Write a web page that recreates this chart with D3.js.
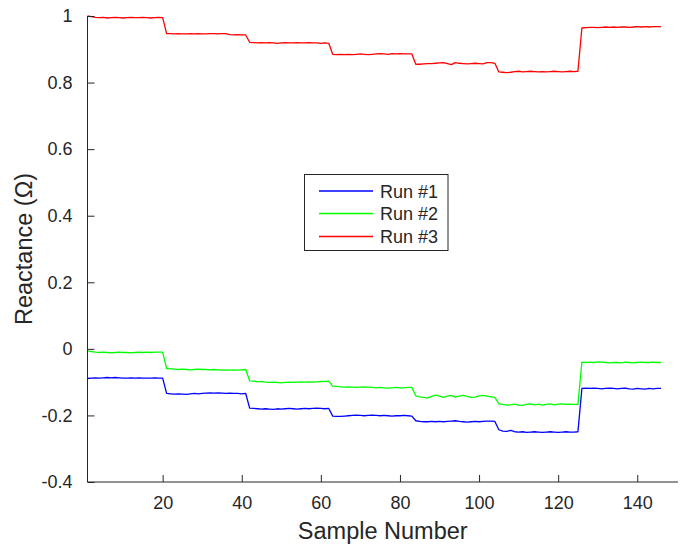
<!DOCTYPE html>
<html>
<head>
<meta charset="utf-8">
<script src="https://cdnjs.cloudflare.com/ajax/libs/d3/7.8.5/d3.min.js"></script>
<style>
  html, body { margin: 0; padding: 0; background: #fff; }
  svg { display: block; }
  text { font-family: "Liberation Sans", Arial, sans-serif; fill: #262626; }
</style>
</head>
<body>
<svg id="chart" width="682" height="546"></svg>
<script>
// ---------------- DATA ----------------
const seriesNames = ["Run #1", "Run #2", "Run #3"];
const seriesColors = ["#0000ff", "#00ff00", "#ff0000"];
const xTicks = [20, 40, 60, 80, 100, 120, 140];
const yTicks = [-0.4, -0.2, 0, 0.2, 0.4, 0.6, 0.8, 1];
const yTickLabels = ["-0.4", "-0.2", "0", "0.2", "0.4", "0.6", "0.8", "1"];
const xLabel = "Sample Number";
const yLabel = "Reactance (\u03A9)";

// Run #1 (blue), samples 1..146
const run1 = [
  -0.089,-0.088,-0.087,-0.088,-0.087,-0.086,-0.087,-0.086,-0.087,-0.088,-0.088,-0.087,-0.088,-0.087,-0.088,-0.088,-0.088,-0.087,-0.088,-0.088,
  -0.134,-0.135,-0.136,-0.135,-0.136,-0.137,-0.135,-0.134,-0.135,-0.134,-0.133,-0.132,-0.133,-0.132,-0.133,-0.134,-0.133,-0.134,-0.134,-0.135,-0.134,
  -0.178,-0.179,-0.180,-0.181,-0.180,-0.181,-0.182,-0.180,-0.181,-0.180,-0.179,-0.180,-0.181,-0.180,-0.179,-0.180,-0.179,-0.178,-0.179,-0.180,-0.179,
  -0.202,-0.203,-0.203,-0.202,-0.201,-0.200,-0.199,-0.200,-0.201,-0.200,-0.199,-0.200,-0.201,-0.200,-0.201,-0.202,-0.201,-0.201,-0.200,-0.201,-0.202,
  -0.216,-0.218,-0.219,-0.219,-0.218,-0.219,-0.218,-0.219,-0.218,-0.217,-0.216,-0.218,-0.219,-0.220,-0.219,-0.218,-0.219,-0.218,-0.217,-0.217,-0.218,
  -0.243,-0.247,-0.248,-0.245,-0.249,-0.250,-0.249,-0.251,-0.250,-0.249,-0.250,-0.251,-0.250,-0.249,-0.250,-0.251,-0.250,-0.249,-0.250,-0.250,-0.249,
  -0.119,-0.118,-0.119,-0.118,-0.119,-0.120,-0.119,-0.118,-0.119,-0.120,-0.119,-0.118,-0.120,-0.121,-0.119,-0.120,-0.121,-0.119,-0.120,-0.119,-0.119
];

// Run #2 (green)
const run2 = [
  -0.006,-0.008,-0.010,-0.011,-0.010,-0.011,-0.012,-0.011,-0.010,-0.011,-0.011,-0.012,-0.011,-0.010,-0.011,-0.010,-0.011,-0.010,-0.010,-0.010,
  -0.059,-0.060,-0.061,-0.062,-0.061,-0.062,-0.063,-0.062,-0.061,-0.062,-0.062,-0.063,-0.062,-0.063,-0.064,-0.063,-0.064,-0.063,-0.064,-0.063,-0.062,
  -0.096,-0.097,-0.099,-0.098,-0.100,-0.101,-0.100,-0.101,-0.102,-0.101,-0.100,-0.101,-0.100,-0.099,-0.100,-0.099,-0.100,-0.099,-0.098,-0.098,-0.097,
  -0.112,-0.113,-0.114,-0.115,-0.114,-0.115,-0.116,-0.115,-0.114,-0.115,-0.116,-0.117,-0.116,-0.117,-0.118,-0.117,-0.116,-0.117,-0.117,-0.116,-0.116,
  -0.141,-0.144,-0.146,-0.148,-0.143,-0.139,-0.142,-0.146,-0.142,-0.140,-0.145,-0.142,-0.140,-0.143,-0.146,-0.145,-0.141,-0.140,-0.142,-0.144,-0.146,
  -0.165,-0.167,-0.169,-0.168,-0.166,-0.169,-0.170,-0.167,-0.165,-0.168,-0.166,-0.169,-0.167,-0.165,-0.168,-0.166,-0.165,-0.167,-0.166,-0.167,-0.167,
  -0.040,-0.041,-0.040,-0.041,-0.039,-0.040,-0.041,-0.042,-0.041,-0.041,-0.042,-0.040,-0.041,-0.042,-0.041,-0.040,-0.041,-0.041,-0.040,-0.041,-0.041
];

// Run #3 (red)
const run3 = [
  1.000,0.998,0.996,0.995,0.996,0.994,0.995,0.996,0.995,0.994,0.995,0.996,0.995,0.995,0.996,0.995,0.994,0.995,0.996,0.995,
  0.947,0.947,0.946,0.947,0.946,0.946,0.947,0.946,0.947,0.946,0.946,0.947,0.947,0.946,0.947,0.947,0.944,0.943,0.944,0.943,0.943,
  0.921,0.920,0.919,0.920,0.919,0.920,0.919,0.918,0.919,0.920,0.919,0.919,0.920,0.919,0.919,0.920,0.919,0.919,0.918,0.919,0.918,
  0.885,0.884,0.885,0.884,0.885,0.884,0.885,0.886,0.885,0.884,0.885,0.886,0.887,0.886,0.885,0.887,0.886,0.887,0.886,0.886,0.886,
  0.855,0.855,0.856,0.857,0.857,0.858,0.859,0.860,0.857,0.854,0.860,0.858,0.857,0.856,0.857,0.858,0.857,0.856,0.860,0.860,0.858,
  0.832,0.831,0.830,0.831,0.833,0.834,0.832,0.833,0.834,0.833,0.832,0.833,0.832,0.833,0.834,0.833,0.832,0.833,0.834,0.833,0.834,
  0.964,0.965,0.966,0.966,0.965,0.966,0.967,0.966,0.967,0.966,0.967,0.967,0.966,0.967,0.968,0.967,0.968,0.967,0.968,0.968,0.968
];

const allRuns = [run1, run2, run3];

// ---------------- CHART ----------------
const svg = d3.select("#chart");
const axisColor = "#262626";

const x = d3.scaleLinear().domain([1, 150.3]).range([87.5, 678]);
const y = d3.scaleLinear().domain([-0.4, 1]).range([482, 16]);

// Lines
const line = d3.line()
  .x((d, i) => x(i + 1))
  .y(d => y(d));

svg.append("g").selectAll("path")
  .data(allRuns)
  .join("path")
  .attr("d", d => line(d))
  .attr("fill", "none")
  .attr("stroke", (d, i) => seriesColors[i])
  .attr("stroke-width", 1.3)
  .attr("stroke-linejoin", "round");

// X axis
const xAxis = d3.axisBottom(x)
  .tickValues(xTicks)
  .tickSizeInner(-7)
  .tickSizeOuter(0)
  .tickPadding(14)
  .tickFormat(d3.format("d"));

const gx = svg.append("g")
  .attr("transform", `translate(0,${y(-0.4)})`)
  .call(xAxis);
gx.select(".domain").attr("stroke", axisColor).attr("d", `M${x(1)},0H${x(150.3)}`);
gx.selectAll(".tick line").attr("stroke", axisColor);
gx.selectAll(".tick text")
  .attr("fill", axisColor)
  .style("font-family", "'Liberation Sans', Arial, sans-serif")
  .style("font-size", "18px");

// Y axis
const yAxis = d3.axisLeft(y)
  .tickValues(yTicks)
  .tickSizeInner(-7)
  .tickSizeOuter(0)
  .tickPadding(15)
  .tickFormat((d, i) => yTickLabels[i]);

const gy = svg.append("g")
  .attr("transform", `translate(${x(1)},0)`)
  .call(yAxis);
gy.select(".domain").attr("stroke", axisColor).attr("d", `M0,${y(-0.4)}V${y(1)}`);
gy.selectAll(".tick line").attr("stroke", axisColor);
gy.selectAll(".tick text")
  .attr("fill", axisColor)
  .style("font-family", "'Liberation Sans', Arial, sans-serif")
  .style("font-size", "18px");

// Axis labels
svg.append("text")
  .attr("x", (x(1) + x(150.3)) / 2)
  .attr("y", 539)
  .attr("text-anchor", "middle")
  .style("font-size", "23.5px")
  .text(xLabel);

svg.append("text")
  .attr("transform", `translate(32,${(y(-0.4) + y(1)) / 2}) rotate(-90)`)
  .attr("text-anchor", "middle")
  .style("font-size", "23.5px")
  .text(yLabel);

// Legend
const legend = svg.append("g");
legend.append("rect")
  .attr("x", 304.5).attr("y", 174.5)
  .attr("width", 143.5).attr("height", 76)
  .attr("fill", "#fff")
  .attr("stroke", axisColor)
  .attr("stroke-width", 1);

const legendRowY = [191, 213.5, 236.5];
seriesNames.forEach((name, i) => {
  legend.append("line")
    .attr("x1", 319).attr("x2", 373)
    .attr("y1", legendRowY[i]).attr("y2", legendRowY[i])
    .attr("stroke", seriesColors[i])
    .attr("stroke-width", 1.3);
  legend.append("text")
    .attr("x", 380)
    .attr("y", legendRowY[i] + 6.5)
    .style("font-size", "18px")
    .text(name);
});
</script>
</body>
</html>
